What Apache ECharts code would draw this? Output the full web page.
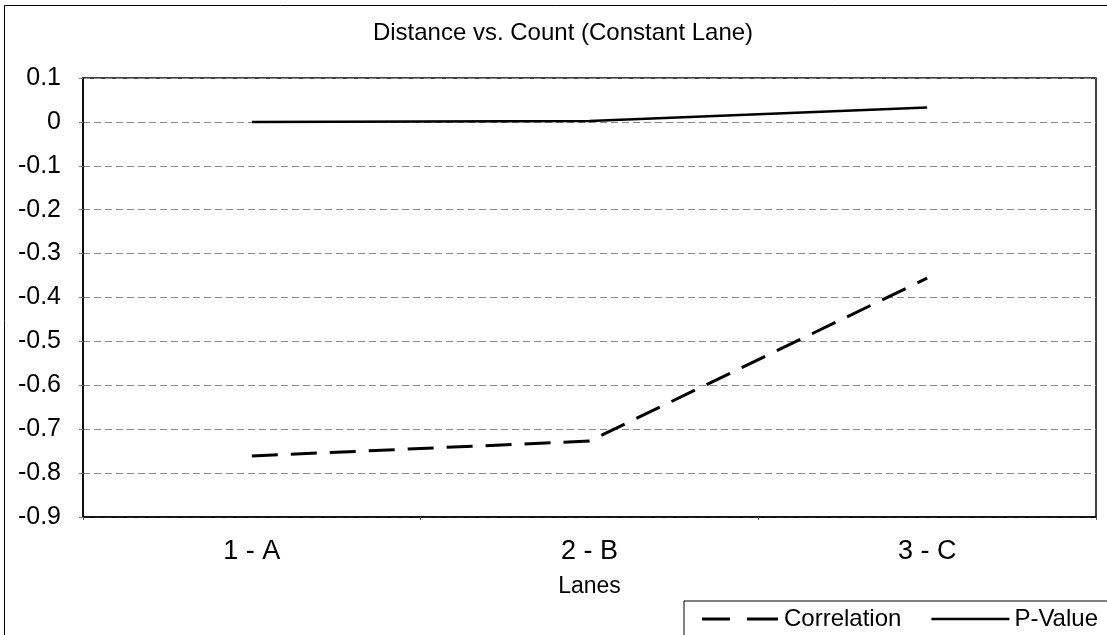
<!DOCTYPE html>
<html>
<head>
<meta charset="utf-8">
<script src="https://cdn.jsdelivr.net/npm/echarts@6/dist/echarts.min.js"></script>
<style>
  html, body { margin: 0; padding: 0; background: #fff; }
  #chart { width: 1107px; height: 635px; }
</style>
</head>
<body>
<div id="chart"></div>
<script>
// lanes on the x axis
const lanes = ['1 - A', '2 - B', '3 - C']
// values
const correlation = [-0.761, -0.727, -0.356]
const pValue = [0.0, 0.002, 0.033]

const font = 'Liberation Sans, Arial, sans-serif'

const option = {
  animation: false,
  backgroundColor: '#fff',
  title: {
    text: 'Distance vs. Count (Constant Lane)',
    left: 558,
    textAlign: 'center',
    top: 16,
    textStyle: { fontFamily: font, fontSize: 24, fontWeight: 'normal', color: '#000' }
  },
  graphic: [{
    type: 'rect',
    shape: { x: 4.5, y: 5.5, width: 1110, height: 640 },
    style: { fill: 'none', stroke: '#000', lineWidth: 1 },
    silent: true
  }],
  grid: {
    left: 83,
    right: 11,
    top: 78,
    bottom: 118,
    show: true,
    borderColor: '#000',
    borderWidth: 1.5
  },
  legend: {
    left: 684,
    top: 601,
    width: 700,
    padding: [6, 10, 8, 18],
    itemGap: 30,
    itemWidth: 78,
    itemHeight: 3,
    borderColor: '#000',
    borderWidth: 1,
    borderRadius: 0,
    backgroundColor: '#fff',
    textStyle: { fontFamily: font, fontSize: 24, color: '#000' },
    data: [
      { name: 'Correlation', icon: 'path://M0,0H28V3H0Z M45,0H76V3H45Z' },
      { name: 'P-Value', icon: 'path://M0,0H80V2.4H0Z' }
    ]
  },
  xAxis: {
    type: 'category',
    data: lanes,
    boundaryGap: true,
    name: 'Lanes',
    nameLocation: 'middle',
    nameGap: 58,
    nameTextStyle: { fontFamily: font, fontSize: 23, color: '#000' },
    axisLine: { show: true, onZero: false, lineStyle: { color: '#000', width: 1.5 } },
    axisTick: { show: true, length: 3, lineStyle: { color: '#555' } },
    axisLabel: { fontFamily: font, fontSize: 27, color: '#000', margin: 21 },
    splitLine: { show: false }
  },
  yAxis: {
    type: 'value',
    min: -0.9,
    max: 0.1,
    interval: 0.1,
    axisLine: { show: true, lineStyle: { color: '#000', width: 1.5 } },
    axisTick: { show: true, length: 4, lineStyle: { color: '#777' } },
    axisLabel: { fontFamily: font, fontSize: 25, color: '#000', margin: 22 },
    splitLine: { show: true, lineStyle: { color: '#8a8a8a', width: 1, type: [7, 4] } }
  },
  series: [
    {
      name: 'Correlation',
      type: 'line',
      data: correlation,
      symbol: 'none',
      lineStyle: { color: '#000', width: 3, type: [26, 13] },
      itemStyle: { color: '#000' }
    },
    {
      name: 'P-Value',
      type: 'line',
      data: pValue,
      symbol: 'none',
      lineStyle: { color: '#000', width: 2.5, type: 'solid' },
      itemStyle: { color: '#000' }
    }
  ]
}

const chart = echarts.init(document.getElementById('chart'))
chart.setOption(option)
</script>
</body>
</html>
